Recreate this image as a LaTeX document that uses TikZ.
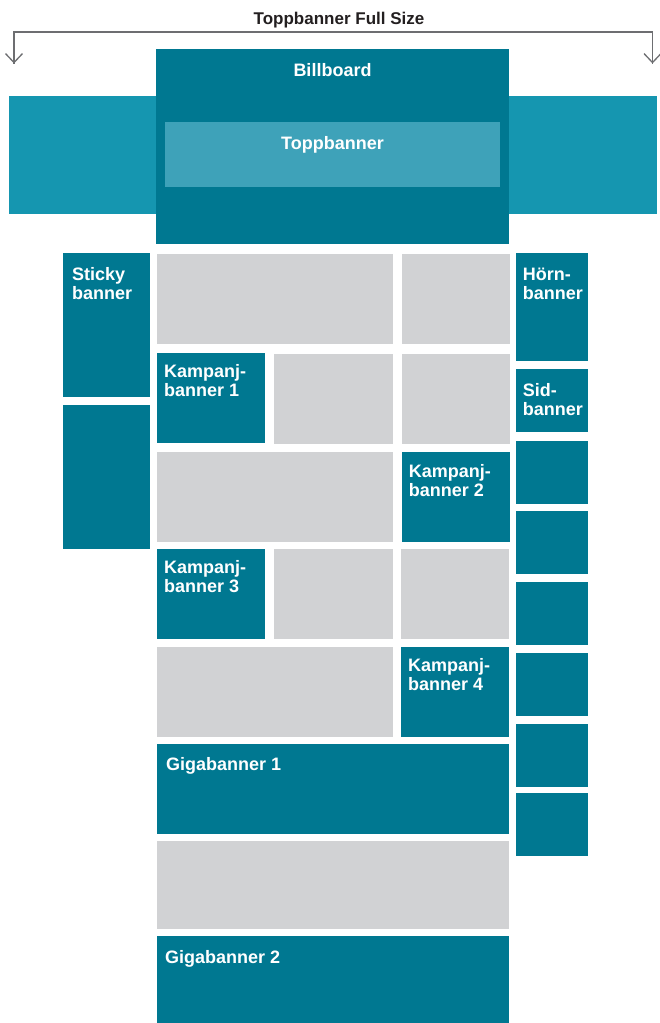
\documentclass[tikz,border=0pt]{standalone}
\usepackage{fontspec}
\setmainfont{Liberation Sans}
\usetikzlibrary{arrows.meta}
\definecolor{teal}{RGB}{0,120,145}
\definecolor{sideteal}{RGB}{21,150,176}
\definecolor{innerteal}{RGB}{62,162,185}
\definecolor{slot}{RGB}{209,210,212}
\definecolor{bracket}{RGB}{109,110,113}
\definecolor{titlec}{RGB}{35,31,32}
\begin{document}
\begin{tikzpicture}[x=1pt,y=-1pt,
  box/.style={fill=teal,draw=none},
  side/.style={fill=sideteal,draw=none},
  inner/.style={fill=innerteal,draw=none},
  slotbox/.style={fill=slot,draw=none},
  lbl/.style={text=white,font=\bfseries\fontsize{18}{19}\selectfont,align=left,inner sep=0pt,anchor=base west},
  clbl/.style={text=white,font=\bfseries\fontsize{18}{19}\selectfont,inner sep=0pt,anchor=base},
  bracketline/.style={draw=bracket,line width=1.3pt,-{Straight Barb[length=9pt,width=17pt,line width=1.3pt]}}
]
\useasboundingbox (0,0) rectangle (659,1023);
% title and bracket
\node[text=titlec,font=\bfseries\fontsize{17}{19}\selectfont,inner sep=0pt,anchor=base] (title) at (339,24) {Toppbanner Full Size};
\coordinate (tl) at (14,32);
\coordinate (tr) at (652.5,32);
\coordinate (al) at (14,63.5);
\coordinate (ar) at (652.5,63.5);
\draw[draw=bracket,line width=1.3pt] (al) -- (tl) -- (tr) -- (ar);
\draw[bracketline] (tl) -- (al);
\draw[bracketline] (tr) -- (ar);
% side toppbanner panels
\fill[side] (9,96) rectangle (157,213.7);
\fill[side] (508,96) rectangle (657,213.7);
% billboard
\fill[box] (156,49) rectangle (509,244);
\node[clbl] (bb) at (332.5,76.7) {Billboard};
\fill[inner] (165,122) rectangle (500,186.7);
\node[clbl] (tb) at (332.5,149) {Toppbanner};
% sticky
\fill[box] (63,253) rectangle (150,396.7);
\node[lbl] (st) at (72,299.3) {Sticky\\banner};
\fill[box] (63,405) rectangle (150,549);
% grid row 1
\fill[slotbox] (157,254) rectangle (393,344);
\fill[slotbox] (402,254) rectangle (509.7,344);
% row 2
\fill[box] (157,353) rectangle (265,442.7);
\node[lbl] (k1) at (164,396.5) {Kampanj-\\banner 1};
\fill[slotbox] (274,354) rectangle (393,443.7);
\fill[slotbox] (402,354) rectangle (509.7,443.7);
% row 3
\fill[slotbox] (157,452) rectangle (393,541.7);
\fill[box] (402,452) rectangle (509.7,541.7);
\node[lbl] (k2) at (408.7,496.5) {Kampanj-\\banner 2};
% row 4
\fill[box] (157,549) rectangle (265,638.7);
\node[lbl] (k3) at (164,592.5) {Kampanj-\\banner 3};
\fill[slotbox] (274,549) rectangle (393,638.7);
\fill[slotbox] (401,549) rectangle (509,638.7);
% row 5
\fill[slotbox] (157,647) rectangle (393,736.7);
\fill[box] (401,647) rectangle (509,736.7);
\node[lbl] (k4) at (408,690.5) {Kampanj-\\banner 4};
% giga 1
\fill[box] (157,744) rectangle (509,833.7);
\node[lbl] (g1) at (166,770.7) {Gigabanner 1};
% slot
\fill[slotbox] (157,841) rectangle (509,928.7);
% giga 2
\fill[box] (157,936) rectangle (509,1023);
\node[lbl] (g2) at (165,963.3) {Gigabanner 2};
% right column
\fill[box] (516,253) rectangle (588,360.7);
\node[lbl] (hb) at (522.7,299.3) {Hörn-\\banner};
\fill[box] (516,369) rectangle (588,431.7);
\node[lbl] (sb) at (522.7,415) {Sid-\\banner};
\fill[box] (516,441) rectangle (588,503.7);
\fill[box] (516,511) rectangle (588,573.7);
\fill[box] (516,582) rectangle (588,644.7);
\fill[box] (516,653) rectangle (588,715.7);
\fill[box] (516,724) rectangle (588,786.7);
\fill[box] (516,793) rectangle (588,855.7);
\end{tikzpicture}
\end{document}
